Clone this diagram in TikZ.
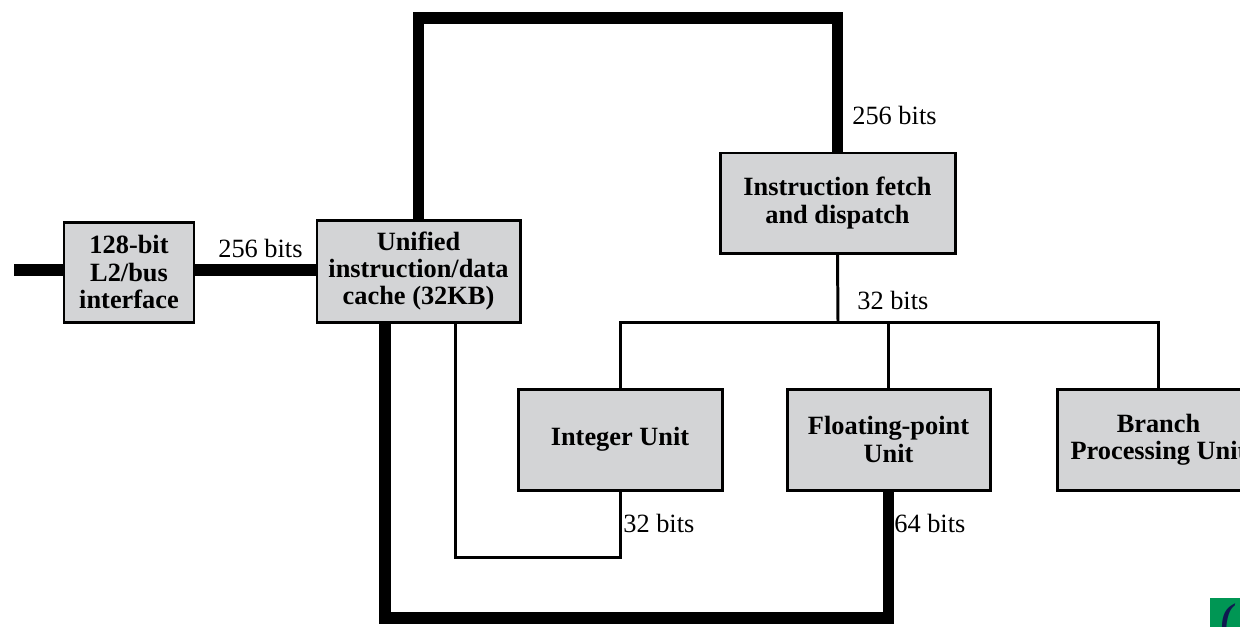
\documentclass[tikz,border=0pt]{standalone}
\usepackage{fontspec}
\setmainfont{Liberation Serif}
\usetikzlibrary{calc, positioning}

\definecolor{boxgray}{RGB}{211,212,214}
\definecolor{taggreen}{RGB}{0,150,84}
\definecolor{tagblue}{RGB}{15,25,80}

\begin{document}
\begin{tikzpicture}[font=\fontsize{15}{15}\selectfont,
		unit/.style={draw=black, line width=1.7pt, fill=boxgray, align=center, font=\fontsize{15}{15.5}\selectfont\bfseries, minimum height=2cm},
		bus/.style={line width=6.8pt},
		wire/.style={line width=1.7pt},
		width/.style={inner sep=0pt, anchor=west}]
		
		\useasboundingbox (0,0) rectangle (24.8,-12.52);
		\clip (0,0) rectangle (24.8,-12.52);
		
		% --- BOXES ---
		\node[unit, minimum width=2.6cm] (l2) at (2.58,-5.44) {128-bit\\L2/bus\\interface};
		\node[unit, minimum width=4.06cm, minimum height=2.04cm] (cache) at (8.37,-5.42) {Unified\\instruction/data\\cache (32KB)};
		\node[unit, minimum width=4.7cm] (fetch) at (16.75,-4.06) {Instruction fetch\\and dispatch};
		\node[unit, minimum width=4.08cm, minimum height=2.02cm] (intu) at (12.4,-8.79) {Integer Unit};
		\node[unit, minimum width=4.06cm, minimum height=2.02cm] (fpu) at (17.77,-8.79) {Floating-point\\Unit};
		\node[unit, minimum width=4.06cm, minimum height=2.02cm] (bpu) at (23.17,-8.79) {Branch\\Processing Unit};
		
		% --- 256-BIT PATHS ---
		\coordinate (busin) at (0.28,-5.4);
		\draw[bus] (busin) -- (busin -| l2.west);
		\draw[bus] (l2.east |- busin) -- (cache.west |- busin);
		\node[width] (w1) at (4.36,-4.96) {256 bits};
		
		\coordinate (topbus) at (12.5,-0.36);
		\draw[bus] (cache.north) |- (topbus) -| (fetch.north);
		\node[width] (w2) at (17.04,-2.3) {256 bits};
		
		% --- DISPATCH ---
		\coordinate (disp) at (16.76,-6.44);
		\draw[wire] (fetch.south) -- (disp);
		\draw[wire] (intu.north) |- (disp) -| (bpu.north);
		\draw[wire] (disp) -| (fpu.north);
		\node[width] (w3) at (17.14,-6.0) {32 bits};
		
		% --- RETURN PATHS ---
		\coordinate (intret) at (9.1,-11.14);
		\draw[wire] (cache.south -| intret) -- (intret) -| (intu.south);
		\node[width] (w4) at (12.46,-10.46) {32 bits};
		
		\coordinate (fpret) at (7.7,-12.36);
		\draw[bus] (cache.south -| fpret) -- (fpret) -| (fpu.south);
		\node[width] (w5) at (17.88,-10.46) {64 bits};
		
		% --- CORNER TAG ---
		\fill[taggreen] (24.2,-11.96) rectangle (25,-12.6);
		\node[width, text=tagblue, font=\fontsize{22}{22}\selectfont\bfseries\itshape] (tag) at (24.4,-12.42) {(};
		
	\end{tikzpicture}
\end{document}
